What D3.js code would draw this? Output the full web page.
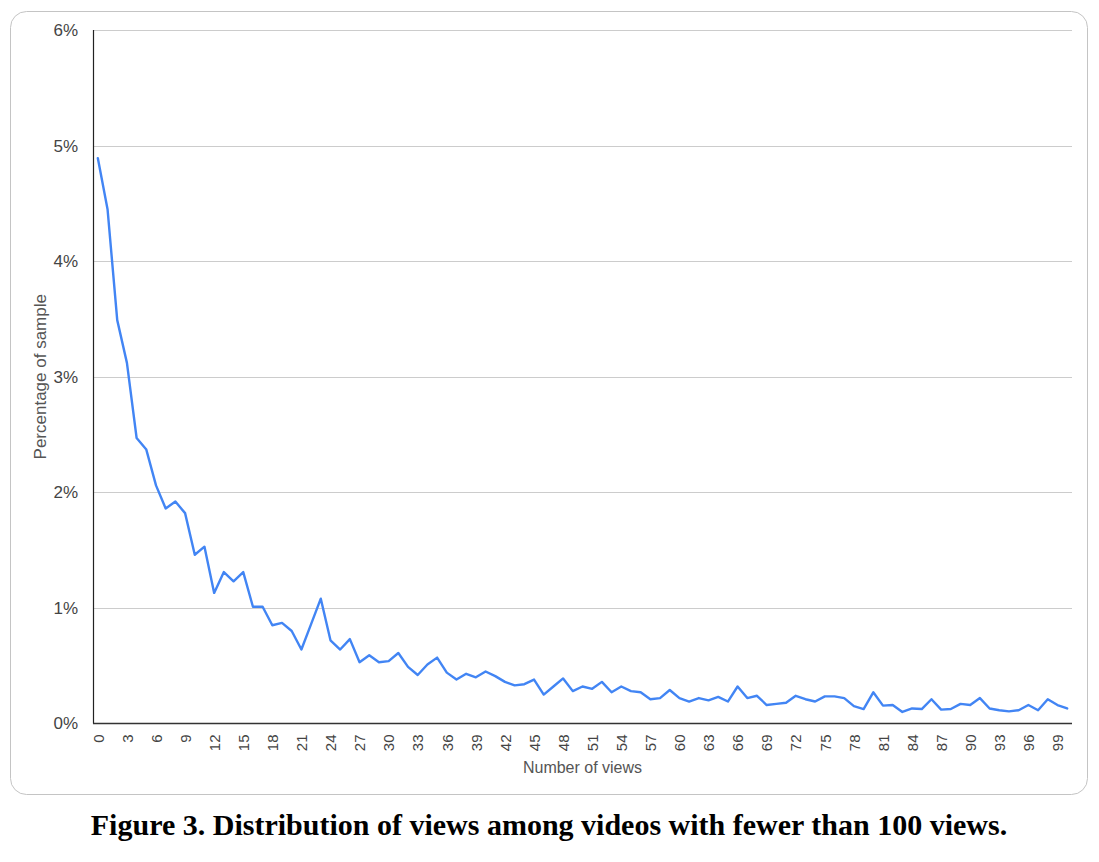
<!DOCTYPE html>
<html>
<head>
<meta charset="utf-8">
<script src="https://cdn.jsdelivr.net/npm/d3@7"></script>
<style>
  html, body { margin: 0; padding: 0; background: #fff; }
  svg { display: block; }
</style>
</head>
<body>
<svg id="chart" width="1099" height="862"></svg>
<script>
// Number of views (0..100)
const views = d3.range(0, 101);
// Percentage of sample for each view count
const percentages = [
  4.89, 4.45, 3.49, 3.12, 2.47, 2.37, 2.06, 1.86, 1.92, 1.82,
  1.46, 1.53, 1.13, 1.31, 1.23, 1.31, 1.01, 1.01, 0.85, 0.87,
  0.80, 0.64, 0.86, 1.08, 0.72, 0.64, 0.73, 0.53, 0.59, 0.53,
  0.54, 0.61, 0.49, 0.42, 0.51, 0.57, 0.44, 0.38, 0.43, 0.40,
  0.45, 0.41, 0.36, 0.33, 0.34, 0.38, 0.25, 0.32, 0.39, 0.28,
  0.32, 0.30, 0.36, 0.27, 0.32, 0.28, 0.27, 0.21, 0.22, 0.29,
  0.22, 0.19, 0.22, 0.20, 0.23, 0.19, 0.32, 0.22, 0.24, 0.16,
  0.17, 0.18, 0.24, 0.21, 0.19, 0.235, 0.235, 0.22, 0.15, 0.125,
  0.27, 0.155, 0.16, 0.10, 0.13, 0.125, 0.21, 0.12, 0.125, 0.17,
  0.16, 0.22, 0.13, 0.115, 0.105, 0.115, 0.16, 0.115, 0.21, 0.16,
  0.13
];
const xTickLabels = d3.range(0, 100, 3);
const yTicks = [0, 1, 2, 3, 4, 5, 6];
const xAxisTitle = "Number of views";
const yAxisTitle = "Percentage of sample";
const caption = "Figure 3. Distribution of views among videos with fewer than 100 views.";

const svg = d3.select("#chart");
const pLeft = 93, pRight = 1072, pTop = 30, pBottom = 723.5;

// outer rounded frame
svg.append("rect")
  .attr("x", 10.5).attr("y", 11.5)
  .attr("width", 1077).attr("height", 783)
  .attr("rx", 16).attr("ry", 16)
  .attr("fill", "none").attr("stroke", "#c4c4c4").attr("stroke-width", 1);

const x = d3.scalePoint().domain(views).range([pLeft, pRight]).padding(0.5);
const y = d3.scaleLinear().domain([0, 6]).range([pBottom, pTop]);

// gridlines
svg.append("g").selectAll("line").data(yTicks.filter(d => d > 0)).join("line")
  .attr("x1", pLeft).attr("x2", pRight)
  .attr("y1", d => Math.round(y(d)) + 0.5).attr("y2", d => Math.round(y(d)) + 0.5)
  .attr("stroke", "#cccccc").attr("stroke-width", 1);

// y tick labels
const yAxis = d3.axisLeft(y).tickValues(yTicks).tickFormat(d => d + "%").tickSize(0).tickPadding(15);
const gy = svg.append("g").attr("transform", `translate(${pLeft},0)`).call(yAxis);
gy.select(".domain").remove();
gy.selectAll("text").attr("font-family", "Liberation Sans, Arial, sans-serif")
  .attr("font-size", 17).attr("fill", "#444");

// x axis
const xAxis = d3.axisBottom(x).tickValues(xTickLabels).tickSize(0).tickPadding(0);
const gx = svg.append("g").attr("transform", `translate(0,${pBottom})`).call(xAxis);
gx.select(".domain").remove();
gx.selectAll("text")
  .attr("font-family", "Liberation Sans, Arial, sans-serif")
  .attr("font-size", 15).attr("fill", "#444")
  .attr("text-anchor", "end")
  .attr("dy", "0.35em")
  .attr("transform", "translate(0,11) rotate(-90)")
  .attr("x", 0).attr("y", 0);

// axis lines
svg.append("line").attr("x1", pLeft + 0.5).attr("x2", pLeft + 0.5).attr("y1", pTop).attr("y2", pBottom)
  .attr("stroke", "#222").attr("stroke-width", 1.2);
svg.append("line").attr("x1", pLeft).attr("x2", pRight).attr("y1", pBottom).attr("y2", pBottom)
  .attr("stroke", "#333").attr("stroke-width", 1.4);

// data line
const line = d3.line().x((d, i) => x(views[i])).y(d => y(d));
svg.append("path").datum(percentages)
  .attr("d", line).attr("fill", "none")
  .attr("stroke", "#4285f4").attr("stroke-width", 2.4)
  .attr("stroke-linejoin", "round").attr("stroke-linecap", "round");

// axis titles
svg.append("text").attr("x", (pLeft + pRight) / 2).attr("y", 773)
  .attr("text-anchor", "middle")
  .attr("font-family", "Liberation Sans, Arial, sans-serif")
  .attr("font-size", 16).attr("fill", "#555").text(xAxisTitle);
svg.append("text").attr("transform", `translate(46,${(pTop + pBottom) / 2}) rotate(-90)`)
  .attr("text-anchor", "middle")
  .attr("font-family", "Liberation Sans, Arial, sans-serif")
  .attr("font-size", 17).attr("fill", "#555").text(yAxisTitle);

// caption
svg.append("text").attr("x", 549).attr("y", 835)
  .attr("text-anchor", "middle")
  .attr("font-family", "Liberation Serif, Times New Roman, serif")
  .attr("font-weight", "bold")
  .attr("font-size", 30).attr("fill", "#000").text(caption);
</script>
</body>
</html>
